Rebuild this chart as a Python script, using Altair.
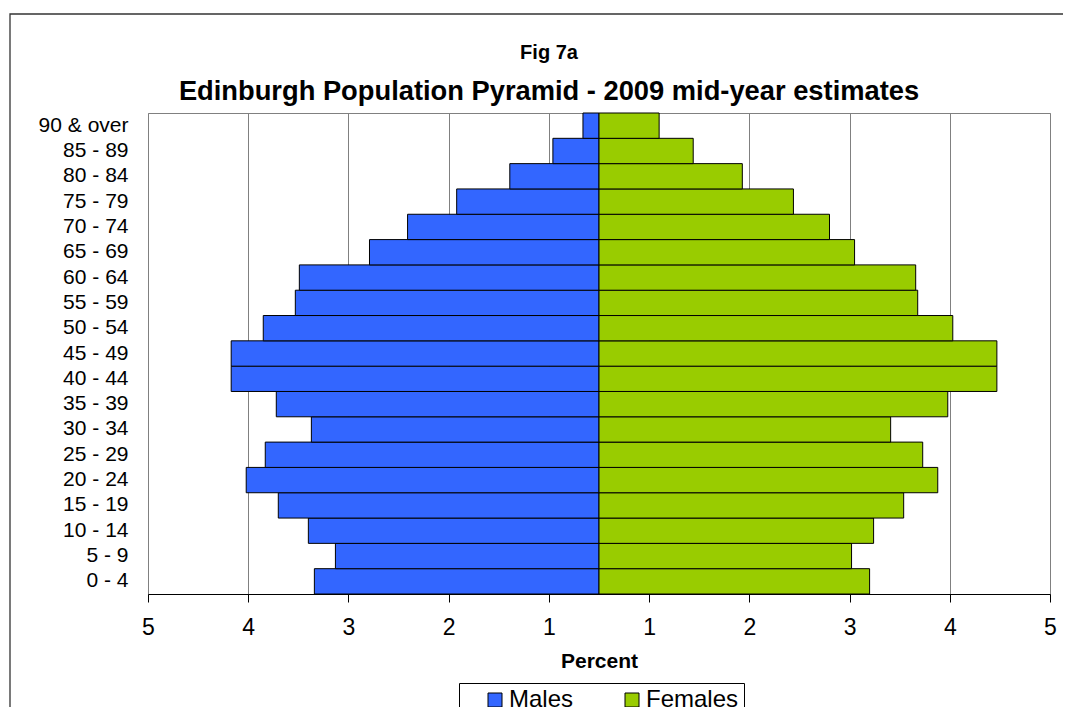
import altair as alt
import pandas as pd

# Age groups (bottom to top)
age_groups = ["0 - 4", "5 - 9", "10 - 14", "15 - 19", "20 - 24", "25 - 29",
              "30 - 34", "35 - 39", "40 - 44", "45 - 49", "50 - 54", "55 - 59",
              "60 - 64", "65 - 69", "70 - 74", "75 - 79", "80 - 84", "85 - 89",
              "90 & over"]
# Percent of population
males = [2.84, 2.63, 2.90, 3.20, 3.52, 3.33, 2.87, 3.22, 3.67, 3.67, 3.35,
         3.03, 2.99, 2.29, 1.91, 1.42, 0.89, 0.46, 0.16]
females = [2.70, 2.52, 2.74, 3.04, 3.38, 3.23, 2.91, 3.48, 3.97, 3.97, 3.53,
           3.18, 3.16, 2.55, 2.30, 1.94, 1.43, 0.94, 0.60]

sexes = ["Males", "Females"]
colors = ["#3366FF", "#99CC00"]
x_ticks = [-4.5, -3.5, -2.5, -1.5, -0.5, 0.5, 1.5, 2.5, 3.5, 4.5]

rows = []
for a, m, f in zip(age_groups, males, females):
    rows.append({"Age": a, "Sex": "Males", "Percent": -m})
    rows.append({"Age": a, "Sex": "Females", "Percent": f})
df = pd.DataFrame(rows)

FONT = "Liberation Sans"

bars = alt.Chart(df).mark_bar(stroke="black", strokeWidth=1).encode(
    x=alt.X("Percent:Q",
            scale=alt.Scale(domain=[-4.5, 4.5], nice=False, zero=True),
            axis=alt.Axis(values=x_ticks, labelExpr="round(abs(datum.value))",
                          title="Percent", grid=True, gridColor="#808080",
                          gridWidth=1, tickColor="black", tickSize=8,
                          domainColor="black", labelFontSize=23,
                          labelFont=FONT, labelColor="black", labelPadding=14,
                          labelFlush=False, labelOverlap=False,
                          titleFont=FONT, titleFontSize=21,
                          titleFontWeight="bold", titleColor="black",
                          titlePadding=11)),
    y=alt.Y("Age:N", sort=list(reversed(age_groups)),
            scale=alt.Scale(paddingInner=0, paddingOuter=0),
            axis=alt.Axis(title=None, ticks=False, domain=False, grid=False,
                          labelFont=FONT, labelFontSize=21, labelColor="black",
                          labelPadding=20)),
    color=alt.Color("Sex:N",
                    scale=alt.Scale(domain=sexes, range=colors),
                    legend=alt.Legend(orient="none", direction="horizontal",
                                      legendX=311, legendY=570,
                                      title=" ", titleOrient="left",
                                      titleFontSize=1, titlePadding=19,
                                      padding=5, strokeColor="black",
                                      symbolType="square", symbolSize=196,
                                      symbolStrokeColor="black",
                                      symbolStrokeWidth=1,
                                      labelFont=FONT, labelFontSize=24,
                                      labelColor="black", labelOffset=2,
                                      columnPadding=46)),
)

frame = alt.Chart(pd.DataFrame({"k": [0]})).mark_rect(
    fillOpacity=0, stroke="#333333", strokeWidth=1.3, clip=False
).encode(x=alt.value(-138), x2=alt.value(960), y=alt.value(-99), y2=alt.value(700))

chart = alt.layer(frame, bars).properties(
    width=902,
    height=481,
    autosize=alt.AutoSizeParams(type="none"),
    padding={"left": 140, "top": 105, "right": 13, "bottom": 113},
    title=alt.TitleParams(
        text="Fig 7a",
        subtitle="Edinburgh Population Pyramid - 2009 mid-year estimates",
        font=FONT, fontSize=20, fontWeight="bold", color="black",
        subtitleFont=FONT, subtitleFontSize=27.3, subtitleFontWeight="bold",
        subtitleColor="black", subtitlePadding=15,
        anchor="middle", frame="group", dx=-50, offset=-92),
).configure_view(stroke="#808080", strokeWidth=1)

chart.save("out.html", embed_options={"renderer": "svg", "actions": False})
